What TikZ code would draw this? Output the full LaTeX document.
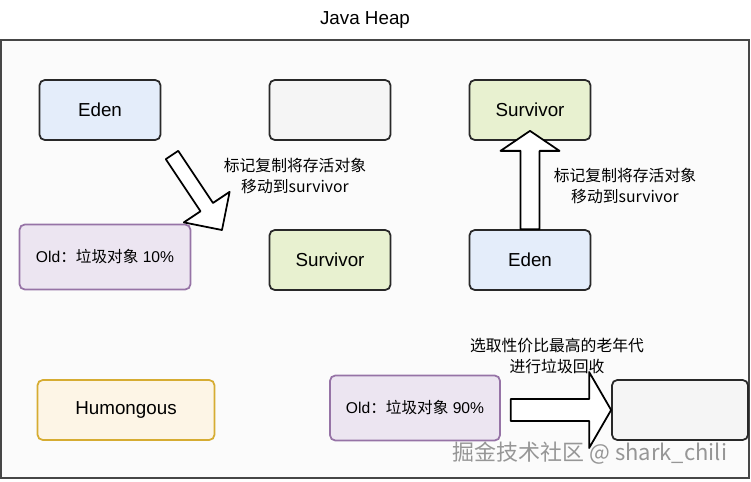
\documentclass[tikz,border=0pt]{standalone}
\usepackage{fontspec}
\setmainfont{Liberation Sans}
\newfontfamily\cjk{Noto Sans CJK SC}
\usetikzlibrary{calc}
\definecolor{heapbg}{RGB}{251,251,251}
\definecolor{heapline}{RGB}{70,70,70}
\definecolor{boxline}{RGB}{40,40,40}
\definecolor{edenfill}{RGB}{228,237,250}
\definecolor{survfill}{RGB}{232,241,208}
\definecolor{emptyfill}{RGB}{245,245,245}
\definecolor{oldfill}{RGB}{236,229,241}
\definecolor{oldline}{RGB}{150,115,166}
\definecolor{humfill}{RGB}{253,245,230}
\definecolor{humline}{RGB}{214,172,50}
\definecolor{markgray}{RGB}{150,150,150}

% fat arrow: name, from, to, shaft half width, head half width, head length
\newcommand{\fatarrow}[6]{%
  \coordinate (#1h) at ($(#3)!#6!(#2)$);
  \draw[fatline] ($(#2)!#4!90:(#3)$) -- ($(#1h)!#4!90:(#3)$) -- ($(#1h)!#5!90:(#3)$)
    -- (#3) -- ($(#1h)!#5!-90:(#3)$) -- ($(#1h)!#4!-90:(#3)$) -- ($(#2)!#4!-90:(#3)$) -- cycle;}

\begin{document}
\begin{tikzpicture}[
  x=0.02cm, y=-0.02cm,
  region/.style={draw=boxline, line width=1pt, rounded corners=3pt, inner sep=0pt,
    minimum width=2.42cm, minimum height=1.2cm, font=\fontsize{10.7}{12}\selectfont},
  eden/.style={region, fill=edenfill},
  surv/.style={region, fill=survfill},
  empty/.style={region, fill=emptyfill},
  old/.style={region, draw=oldline, fill=oldfill, minimum width=3.42cm, minimum height=1.3cm,
    font=\fontsize{8.9}{10}\selectfont},
  hum/.style={region, draw=humline, fill=humfill, minimum width=3.54cm},
  note/.style={align=center, font=\cjk\fontsize{9}{11.5}\selectfont},
  fatline/.style={draw=black, fill=white, line width=1pt, line join=round}
]
\useasboundingbox (0,0) rectangle (751,481);
\fill[white] (0,0) rectangle (751,481);

\node[font=\fontsize{10.7}{12}\selectfont] (title) at (365,20) {Java Heap};
\draw[heapline, fill=heapbg, line width=0.9pt] (1,40) rectangle (749,478);

% young gc
\node[eden] (eden1) at (100,110) {Eden};
\node[empty] (blank1) at (330,110) {};
\node[old] (old1) at (105,257) {Old{\cjk：垃圾对象} 10\%};
\node[surv] (surv2) at (330,260) {Survivor};
\coordinate (dtail) at (172,155);
\coordinate (dtip) at (222,230);
\fatarrow{diag}{dtail}{dtip}{0.15cm}{0.55cm}{0.55cm}
\node[note] (copy1) at (295,176) {标记复制将存活对象\\移动到survivor};

\node[surv] (surv1) at (530,110) {Survivor};
\node[eden] (eden2) at (530,260) {Eden};
\coordinate (utip) at ([yshift=0.2cm]surv1.south);
\fatarrow{up}{eden2.north}{utip}{0.19cm}{0.59cm}{0.4cm}
\node[note] (copy2) at (625,186) {标记复制将存活对象\\移动到survivor};

% mixed gc
\node[hum] (hum) at (126,410) {Humongous};
\node[old, minimum width=3.4cm] (old2) at (415,408) {Old{\cjk：垃圾对象} 90\%};
\node[empty, minimum width=2.72cm] (blank2) at (680,410) {};
\coordinate (htail) at ([xshift=0.2cm]old2.east |- blank2.west);
\fatarrow{right}{htail}{blank2.west}{0.22cm}{0.76cm}{0.44cm}
\node[note] (pick) at (557,356) {选取性价比最高的老年代\\进行垃圾回收};

\node[font=\cjk\fontsize{12.5}{14}\selectfont, text=markgray] (mark) at (590,453) {掘金技术社区 @ shark\_chili};
\end{tikzpicture}
\end{document}
